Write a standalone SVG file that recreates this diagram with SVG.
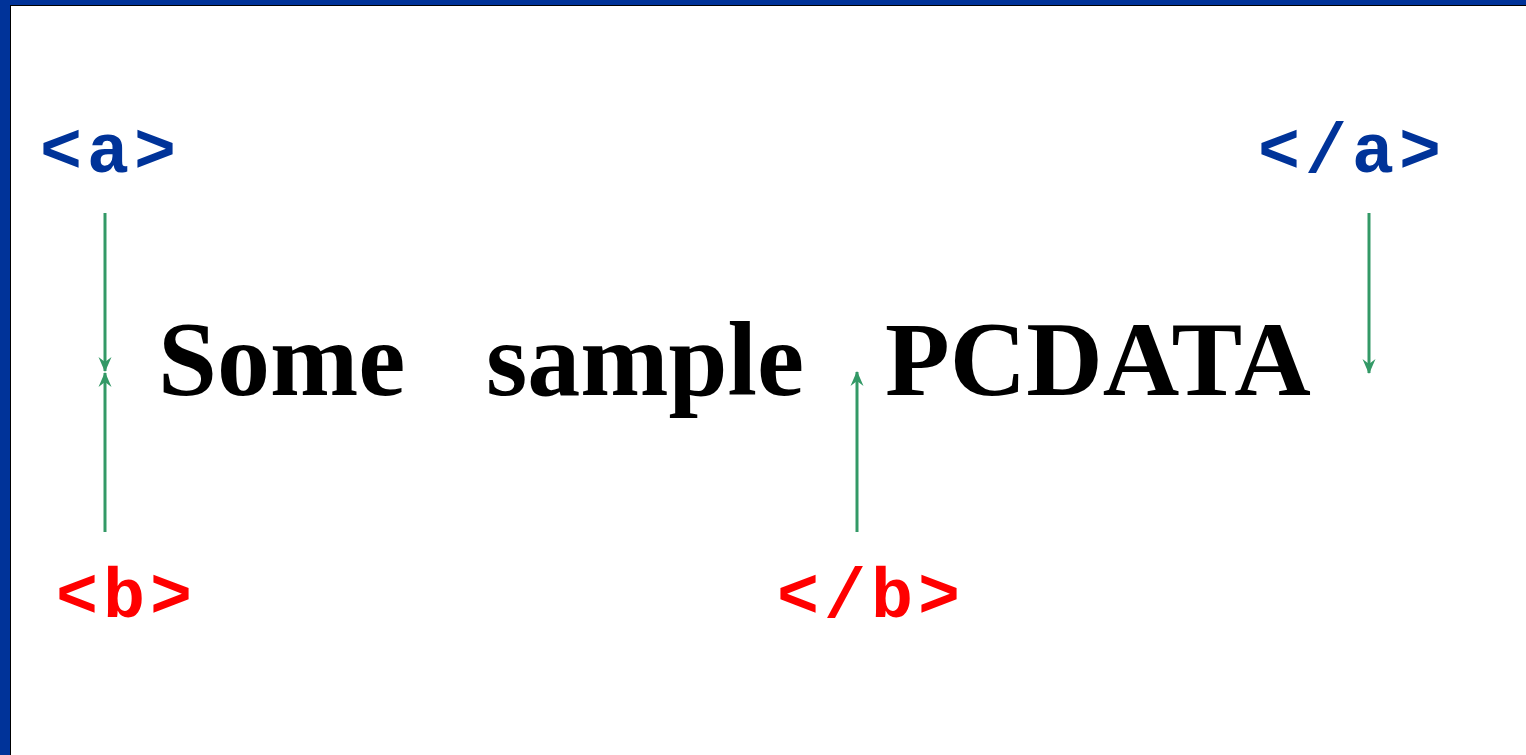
<svg xmlns="http://www.w3.org/2000/svg" width="1526" height="755" viewBox="0 0 1526 755">
<style>
.tag{font-family:"Liberation Mono","Courier New",monospace;font-weight:bold;font-size:70px;letter-spacing:5px}
.a{fill:#003399}
.b{fill:#ff0000}
.main{font-family:"Liberation Serif","Times New Roman",serif;font-weight:bold;font-size:106px;fill:#000}
.conn{stroke:#339966;stroke-width:3;fill:none;marker-end:url(#arr)}
</style>
<defs>
<marker id="arr" markerUnits="userSpaceOnUse" markerWidth="16" markerHeight="14" refX="14" refY="7" orient="auto" viewBox="0 0 16 14">
<path d="M0,0.5 L15,7 L0,13.5 L5,7 Z" fill="#339966"/>
</marker>
</defs>
<rect x="0" y="0" width="1526" height="755" fill="#003399"/>
<rect x="10" y="5" width="1516" height="750" fill="#000"/>
<rect x="11" y="6" width="1515" height="749" fill="#fff"/>
<g id="tag-a-open"><text class="tag a" x="40" y="172">&lt;a&gt;</text></g>
<g id="tag-a-close"><text class="tag a" x="1258" y="172">&lt;/a&gt;</text></g>
<g id="tag-b-open"><text class="tag b" x="56" y="617">&lt;b&gt;</text></g>
<g id="tag-b-close"><text class="tag b" x="777" y="617">&lt;/b&gt;</text></g>
<g id="pcdata">
<text class="main" x="158" y="395">Some</text>
<text class="main" x="486" y="395">sample</text>
<text class="main" x="885" y="395">PCDATA</text>
</g>
<g id="connectors">
<line class="conn" x1="105" y1="213" x2="105" y2="371"/>
<line class="conn" x1="105" y1="532" x2="105" y2="373"/>
<line class="conn" x1="857" y1="532" x2="857" y2="372"/>
<line class="conn" x1="1369" y1="213" x2="1369" y2="373"/>
</g>
</svg>
